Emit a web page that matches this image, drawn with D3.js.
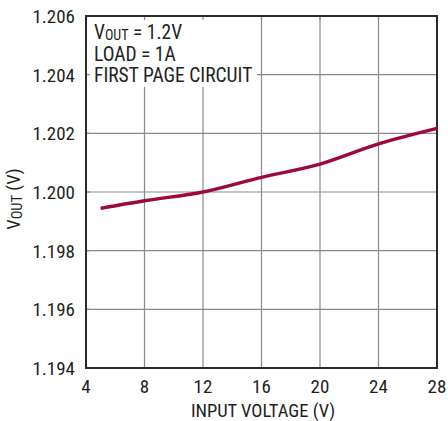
<!DOCTYPE html>
<html><head><meta charset="utf-8">
<script src="https://cdnjs.cloudflare.com/ajax/libs/d3/7.8.5/d3.min.js"></script>
<style>
html,body{margin:0;padding:0;background:#fff;}
svg text{font-family:"Liberation Sans Narrow","Arial Narrow","Roboto Condensed",sans-serif;fill:#231f20;}
</style></head>
<body>
<svg id="chart" width="448" height="421"></svg>
<script>
const inputVoltage = [5, 8, 12, 16, 20, 24, 28];
const vout = [1.19944, 1.19970, 1.20000, 1.20050, 1.20095, 1.20164, 1.20217];
const xTicks = [4, 8, 12, 16, 20, 24, 28];
const yTicks = [1.194, 1.196, 1.198, 1.200, 1.202, 1.204, 1.206];

const svg = d3.select("#chart");
const L = 86, R = 437, T = 16, B = 368;
const x = d3.scaleLinear().domain([4, 28]).range([L, R]);
const y = d3.scaleLinear().domain([1.194, 1.206]).range([B, T]);

// grid
const g = svg.append("g");
g.selectAll(".vg").data(xTicks.slice(1, -1)).enter().append("line")
  .attr("x1", d => x(d)).attr("x2", d => x(d)).attr("y1", T).attr("y2", B)
  .attr("stroke", "#8a8a8a").attr("stroke-width", 1.2);
g.selectAll(".hg").data(yTicks.slice(1, -1)).enter().append("line")
  .attr("x1", L).attr("x2", R).attr("y1", d => y(d)).attr("y2", d => y(d))
  .attr("stroke", "#8a8a8a").attr("stroke-width", 1.2);

// white box behind annotation
svg.append("rect").attr("x", L).attr("y", T).attr("width", 171).attr("height", 71).attr("fill", "#fff");

// inward ticks
xTicks.slice(1, -1).forEach(d => {
  svg.append("line").attr("x1", x(d)).attr("x2", x(d)).attr("y1", T).attr("y2", T + 4)
    .attr("stroke", "#8a8a8a").attr("stroke-width", 1.2);
});
yTicks.slice(1, -1).forEach(d => {
  svg.append("line").attr("x1", L).attr("x2", L + 4).attr("y1", y(d)).attr("y2", y(d))
    .attr("stroke", "#8a8a8a").attr("stroke-width", 1.2);
});

// frame
svg.append("rect").attr("x", L).attr("y", T).attr("width", R - L).attr("height", B - T)
  .attr("fill", "none").attr("stroke", "#2b2b2b").attr("stroke-width", 2);

// line
const line = d3.line().x((d, i) => x(inputVoltage[i])).y(d => y(d)).curve(d3.curveMonotoneX);
svg.append("path").datum(vout).attr("d", line)
  .attr("fill", "none").attr("stroke", "#9c0a3a").attr("stroke-width", 3.4).attr("stroke-linecap", "butt");

// tick labels
svg.selectAll(".xl").data(xTicks).enter().append("text")
  .attr("x", d => x(d)).attr("y", 393).attr("text-anchor", "middle")
  .attr("font-size", 19).text(d => d);
svg.selectAll(".yl").data(yTicks).enter().append("text")
  .attr("x", 75).attr("y", d => y(d) + 7).attr("text-anchor", "end")
  .attr("font-size", 19).text(d => d3.format(".3f")(d));

// axis titles
svg.append("text").attr("x", 263).attr("y", 417).attr("text-anchor", "middle")
  .attr("font-size", 18.5).text("INPUT VOLTAGE (V)");
const yt = svg.append("text").attr("transform", "translate(20,199) rotate(-90)")
  .attr("text-anchor", "middle").attr("font-size", 18.5);
yt.append("tspan").text("V");
yt.append("tspan").attr("font-size", 14.5).attr("dy", 2).text("OUT");
yt.append("tspan").attr("dy", -2).text(" (V)");

// annotation
const a1 = svg.append("text").attr("x", 94).attr("y", 38.5).attr("font-size", 19.5);
a1.append("tspan").text("V");
a1.append("tspan").attr("font-size", 14).attr("dy", 1.5).text("OUT");
a1.append("tspan").attr("dy", -1.5).text(" = 1.2V");
svg.append("text").attr("x", 94).attr("y", 61).attr("font-size", 19.5).text("LOAD = 1A");
svg.append("text").attr("x", 94).attr("y", 82).attr("font-size", 19.5).text("FIRST PAGE CIRCUIT");
</script>
</body></html>
